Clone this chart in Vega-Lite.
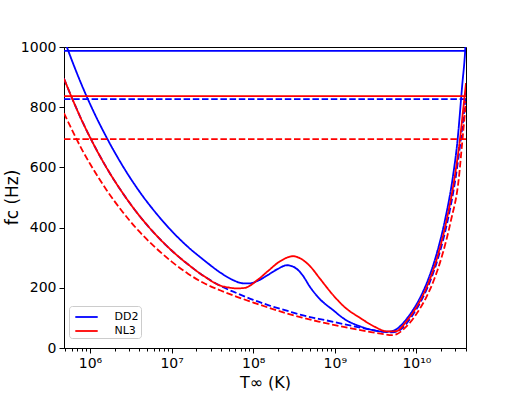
{
  "$schema": "https://vega.github.io/schema/vega-lite/v6.json",
  "width": 402,
  "height": 301,
  "autosize": "none",
  "padding": {"left": 64, "top": 47, "right": 52, "bottom": 50},
  "config": {
    "font": "DejaVu Sans",
    "view": {"stroke": "black", "strokeWidth": 1},
    "axis": {"grid": false, "domainColor": "black", "tickColor": "black", "labelColor": "black", "titleColor": "black", "labelFont": "DejaVu Sans", "titleFont": "DejaVu Sans", "titleFontWeight": "normal", "labelFontSize": 14, "titleFontSize": 17}
  },
  "data": {"values": [
    {"T": 5.2e5, "f": 1000, "m": "DD2", "s": "solid", "id": "a"},
    {"T": 6.31e5, "f": 940, "m": "DD2", "s": "solid", "id": "a"},
    {"T": 7.94e5, "f": 873, "m": "DD2", "s": "solid", "id": "a"},
    {"T": 1e6, "f": 811, "m": "DD2", "s": "solid", "id": "a"},
    {"T": 1.585e6, "f": 701, "m": "DD2", "s": "solid", "id": "a"},
    {"T": 2.512e6, "f": 605, "m": "DD2", "s": "solid", "id": "a"},
    {"T": 3.981e6, "f": 522, "m": "DD2", "s": "solid", "id": "a"},
    {"T": 6.31e6, "f": 451, "m": "DD2", "s": "solid", "id": "a"},
    {"T": 1e7, "f": 389, "m": "DD2", "s": "solid", "id": "a"},
    {"T": 1.585e7, "f": 336, "m": "DD2", "s": "solid", "id": "a"},
    {"T": 2.512e7, "f": 291, "m": "DD2", "s": "solid", "id": "a"},
    {"T": 3.981e7, "f": 250, "m": "DD2", "s": "solid", "id": "a"},
    {"T": 5.623e7, "f": 226, "m": "DD2", "s": "solid", "id": "a"},
    {"T": 7.5e7, "f": 215, "m": "DD2", "s": "solid", "id": "a"},
    {"T": 9.14e7, "f": 215, "m": "DD2", "s": "solid", "id": "a"},
    {"T": 1.15e8, "f": 224, "m": "DD2", "s": "solid", "id": "a"},
    {"T": 1.52e8, "f": 243, "m": "DD2", "s": "solid", "id": "a"},
    {"T": 2.01e8, "f": 263, "m": "DD2", "s": "solid", "id": "a"},
    {"T": 2.59e8, "f": 275, "m": "DD2", "s": "solid", "id": "a"},
    {"T": 3.25e8, "f": 267, "m": "DD2", "s": "solid", "id": "a"},
    {"T": 4.07e8, "f": 240, "m": "DD2", "s": "solid", "id": "a"},
    {"T": 4.96e8, "f": 203, "m": "DD2", "s": "solid", "id": "a"},
    {"T": 6.59e8, "f": 162, "m": "DD2", "s": "solid", "id": "a"},
    {"T": 9.51e8, "f": 126, "m": "DD2", "s": "solid", "id": "a"},
    {"T": 1.33e9, "f": 95, "m": "DD2", "s": "solid", "id": "a"},
    {"T": 2.04e9, "f": 72, "m": "DD2", "s": "solid", "id": "a"},
    {"T": 3.11e9, "f": 58, "m": "DD2", "s": "solid", "id": "a"},
    {"T": 4.36e9, "f": 54, "m": "DD2", "s": "solid", "id": "a"},
    {"T": 5.01e9, "f": 56, "m": "DD2", "s": "solid", "id": "a"},
    {"T": 5.75e9, "f": 63, "m": "DD2", "s": "solid", "id": "a"},
    {"T": 7.08e9, "f": 87, "m": "DD2", "s": "solid", "id": "a"},
    {"T": 8.91e9, "f": 123, "m": "DD2", "s": "solid", "id": "a"},
    {"T": 1.122e10, "f": 170, "m": "DD2", "s": "solid", "id": "a"},
    {"T": 1.413e10, "f": 232, "m": "DD2", "s": "solid", "id": "a"},
    {"T": 1.778e10, "f": 315, "m": "DD2", "s": "solid", "id": "a"},
    {"T": 2.239e10, "f": 425, "m": "DD2", "s": "solid", "id": "a"},
    {"T": 2.818e10, "f": 575, "m": "DD2", "s": "solid", "id": "a"},
    {"T": 3.162e10, "f": 680, "m": "DD2", "s": "solid", "id": "a"},
    {"T": 3.631e10, "f": 870, "m": "DD2", "s": "solid", "id": "a"},
    {"T": 3.98e10, "f": 1000, "m": "DD2", "s": "solid", "id": "a"},
    {"T": 4.05e10, "f": 1040, "m": "DD2", "s": "solid", "id": "a"},

    {"T": 4.8e5, "f": 895, "m": "DD2", "s": "dashed", "id": "b"},
    {"T": 6.31e5, "f": 817, "m": "DD2", "s": "dashed", "id": "b"},
    {"T": 7.94e5, "f": 756, "m": "DD2", "s": "dashed", "id": "b"},
    {"T": 1e6, "f": 700, "m": "DD2", "s": "dashed", "id": "b"},
    {"T": 1.585e6, "f": 600, "m": "DD2", "s": "dashed", "id": "b"},
    {"T": 2.512e6, "f": 515, "m": "DD2", "s": "dashed", "id": "b"},
    {"T": 3.981e6, "f": 441, "m": "DD2", "s": "dashed", "id": "b"},
    {"T": 6.31e6, "f": 378, "m": "DD2", "s": "dashed", "id": "b"},
    {"T": 1e7, "f": 324, "m": "DD2", "s": "dashed", "id": "b"},
    {"T": 1.585e7, "f": 278, "m": "DD2", "s": "dashed", "id": "b"},
    {"T": 2.512e7, "f": 238, "m": "DD2", "s": "dashed", "id": "b"},
    {"T": 3.981e7, "f": 206, "m": "DD2", "s": "dashed", "id": "b"},
    {"T": 6.31e7, "f": 182, "m": "DD2", "s": "dashed", "id": "b"},
    {"T": 1e8, "f": 160, "m": "DD2", "s": "dashed", "id": "b"},
    {"T": 1.585e8, "f": 141, "m": "DD2", "s": "dashed", "id": "b"},
    {"T": 2.512e8, "f": 125, "m": "DD2", "s": "dashed", "id": "b"},
    {"T": 3.981e8, "f": 109, "m": "DD2", "s": "dashed", "id": "b"},
    {"T": 6.31e8, "f": 97, "m": "DD2", "s": "dashed", "id": "b"},
    {"T": 1e9, "f": 86, "m": "DD2", "s": "dashed", "id": "b"},
    {"T": 1.585e9, "f": 74, "m": "DD2", "s": "dashed", "id": "b"},
    {"T": 2.512e9, "f": 63, "m": "DD2", "s": "dashed", "id": "b"},
    {"T": 3.981e9, "f": 54, "m": "DD2", "s": "dashed", "id": "b"},
    {"T": 5.01e9, "f": 52, "m": "DD2", "s": "dashed", "id": "b"},
    {"T": 6.31e9, "f": 60, "m": "DD2", "s": "dashed", "id": "b"},
    {"T": 7.59e9, "f": 82, "m": "DD2", "s": "dashed", "id": "b"},
    {"T": 9.55e9, "f": 120, "m": "DD2", "s": "dashed", "id": "b"},
    {"T": 1.202e10, "f": 168, "m": "DD2", "s": "dashed", "id": "b"},
    {"T": 1.514e10, "f": 230, "m": "DD2", "s": "dashed", "id": "b"},
    {"T": 1.905e10, "f": 312, "m": "DD2", "s": "dashed", "id": "b"},
    {"T": 2.399e10, "f": 420, "m": "DD2", "s": "dashed", "id": "b"},
    {"T": 3.02e10, "f": 565, "m": "DD2", "s": "dashed", "id": "b"},
    {"T": 3.508e10, "f": 695, "m": "DD2", "s": "dashed", "id": "b"},
    {"T": 3.89e10, "f": 800, "m": "DD2", "s": "dashed", "id": "b"},
    {"T": 4.05e10, "f": 850, "m": "DD2", "s": "dashed", "id": "b"},

    {"T": 4.8e5, "f": 987, "m": "DD2", "s": "solid", "id": "c"},
    {"T": 4.05e10, "f": 987, "m": "DD2", "s": "solid", "id": "c"},
    {"T": 4.8e5, "f": 827, "m": "DD2", "s": "dashed", "id": "d"},
    {"T": 4.05e10, "f": 827, "m": "DD2", "s": "dashed", "id": "d"},

    {"T": 4.8e5, "f": 895, "m": "NL3", "s": "solid", "id": "e"},
    {"T": 6.31e5, "f": 817, "m": "NL3", "s": "solid", "id": "e"},
    {"T": 7.94e5, "f": 756, "m": "NL3", "s": "solid", "id": "e"},
    {"T": 1e6, "f": 700, "m": "NL3", "s": "solid", "id": "e"},
    {"T": 1.585e6, "f": 600, "m": "NL3", "s": "solid", "id": "e"},
    {"T": 2.512e6, "f": 515, "m": "NL3", "s": "solid", "id": "e"},
    {"T": 3.981e6, "f": 441, "m": "NL3", "s": "solid", "id": "e"},
    {"T": 6.31e6, "f": 378, "m": "NL3", "s": "solid", "id": "e"},
    {"T": 1e7, "f": 324, "m": "NL3", "s": "solid", "id": "e"},
    {"T": 1.585e7, "f": 278, "m": "NL3", "s": "solid", "id": "e"},
    {"T": 2.512e7, "f": 238, "m": "NL3", "s": "solid", "id": "e"},
    {"T": 3.981e7, "f": 207, "m": "NL3", "s": "solid", "id": "e"},
    {"T": 5.012e7, "f": 201, "m": "NL3", "s": "solid", "id": "e"},
    {"T": 6.31e7, "f": 198, "m": "NL3", "s": "solid", "id": "e"},
    {"T": 7.943e7, "f": 200, "m": "NL3", "s": "solid", "id": "e"},
    {"T": 1.15e8, "f": 228, "m": "NL3", "s": "solid", "id": "e"},
    {"T": 1.52e8, "f": 256, "m": "NL3", "s": "solid", "id": "e"},
    {"T": 2.13e8, "f": 288, "m": "NL3", "s": "solid", "id": "e"},
    {"T": 3.08e8, "f": 305, "m": "NL3", "s": "solid", "id": "e"},
    {"T": 3.75e8, "f": 298, "m": "NL3", "s": "solid", "id": "e"},
    {"T": 4.96e8, "f": 272, "m": "NL3", "s": "solid", "id": "e"},
    {"T": 6.59e8, "f": 230, "m": "NL3", "s": "solid", "id": "e"},
    {"T": 9.51e8, "f": 176, "m": "NL3", "s": "solid", "id": "e"},
    {"T": 1.33e9, "f": 135, "m": "NL3", "s": "solid", "id": "e"},
    {"T": 2.04e9, "f": 100, "m": "NL3", "s": "solid", "id": "e"},
    {"T": 3.11e9, "f": 70, "m": "NL3", "s": "solid", "id": "e"},
    {"T": 4.36e9, "f": 55, "m": "NL3", "s": "solid", "id": "e"},
    {"T": 5.78e9, "f": 56, "m": "NL3", "s": "solid", "id": "e"},
    {"T": 6.31e9, "f": 64, "m": "NL3", "s": "solid", "id": "e"},
    {"T": 7.41e9, "f": 86, "m": "NL3", "s": "solid", "id": "e"},
    {"T": 9.33e9, "f": 123, "m": "NL3", "s": "solid", "id": "e"},
    {"T": 1.175e10, "f": 170, "m": "NL3", "s": "solid", "id": "e"},
    {"T": 1.479e10, "f": 232, "m": "NL3", "s": "solid", "id": "e"},
    {"T": 1.862e10, "f": 315, "m": "NL3", "s": "solid", "id": "e"},
    {"T": 2.344e10, "f": 425, "m": "NL3", "s": "solid", "id": "e"},
    {"T": 2.951e10, "f": 570, "m": "NL3", "s": "solid", "id": "e"},
    {"T": 3.42e10, "f": 695, "m": "NL3", "s": "solid", "id": "e"},
    {"T": 3.8e10, "f": 810, "m": "NL3", "s": "solid", "id": "e"},
    {"T": 4.05e10, "f": 880, "m": "NL3", "s": "solid", "id": "e"},

    {"T": 4.8e5, "f": 780, "m": "NL3", "s": "dashed", "id": "f"},
    {"T": 6.31e5, "f": 713, "m": "NL3", "s": "dashed", "id": "f"},
    {"T": 7.94e5, "f": 660, "m": "NL3", "s": "dashed", "id": "f"},
    {"T": 1e6, "f": 612, "m": "NL3", "s": "dashed", "id": "f"},
    {"T": 1.585e6, "f": 526, "m": "NL3", "s": "dashed", "id": "f"},
    {"T": 2.512e6, "f": 452, "m": "NL3", "s": "dashed", "id": "f"},
    {"T": 3.981e6, "f": 388, "m": "NL3", "s": "dashed", "id": "f"},
    {"T": 6.31e6, "f": 334, "m": "NL3", "s": "dashed", "id": "f"},
    {"T": 1e7, "f": 287, "m": "NL3", "s": "dashed", "id": "f"},
    {"T": 1.585e7, "f": 247, "m": "NL3", "s": "dashed", "id": "f"},
    {"T": 2.512e7, "f": 215, "m": "NL3", "s": "dashed", "id": "f"},
    {"T": 3.981e7, "f": 191, "m": "NL3", "s": "dashed", "id": "f"},
    {"T": 6.31e7, "f": 170, "m": "NL3", "s": "dashed", "id": "f"},
    {"T": 1e8, "f": 151, "m": "NL3", "s": "dashed", "id": "f"},
    {"T": 1.585e8, "f": 133, "m": "NL3", "s": "dashed", "id": "f"},
    {"T": 2.512e8, "f": 116, "m": "NL3", "s": "dashed", "id": "f"},
    {"T": 3.981e8, "f": 101, "m": "NL3", "s": "dashed", "id": "f"},
    {"T": 6.31e8, "f": 88, "m": "NL3", "s": "dashed", "id": "f"},
    {"T": 1e9, "f": 76, "m": "NL3", "s": "dashed", "id": "f"},
    {"T": 1.585e9, "f": 65, "m": "NL3", "s": "dashed", "id": "f"},
    {"T": 2.512e9, "f": 55, "m": "NL3", "s": "dashed", "id": "f"},
    {"T": 3.981e9, "f": 46, "m": "NL3", "s": "dashed", "id": "f"},
    {"T": 5.01e9, "f": 43, "m": "NL3", "s": "dashed", "id": "f"},
    {"T": 5.75e9, "f": 46, "m": "NL3", "s": "dashed", "id": "f"},
    {"T": 6.92e9, "f": 62, "m": "NL3", "s": "dashed", "id": "f"},
    {"T": 8.32e9, "f": 84, "m": "NL3", "s": "dashed", "id": "f"},
    {"T": 1.047e10, "f": 121, "m": "NL3", "s": "dashed", "id": "f"},
    {"T": 1.318e10, "f": 168, "m": "NL3", "s": "dashed", "id": "f"},
    {"T": 1.66e10, "f": 230, "m": "NL3", "s": "dashed", "id": "f"},
    {"T": 2.089e10, "f": 312, "m": "NL3", "s": "dashed", "id": "f"},
    {"T": 2.63e10, "f": 420, "m": "NL3", "s": "dashed", "id": "f"},
    {"T": 3.311e10, "f": 565, "m": "NL3", "s": "dashed", "id": "f"},
    {"T": 3.63e10, "f": 680, "m": "NL3", "s": "dashed", "id": "f"},
    {"T": 4.05e10, "f": 820, "m": "NL3", "s": "dashed", "id": "f"},

    {"T": 4.8e5, "f": 837, "m": "NL3", "s": "solid", "id": "g"},
    {"T": 4.05e10, "f": 837, "m": "NL3", "s": "solid", "id": "g"},
    {"T": 4.8e5, "f": 694, "m": "NL3", "s": "dashed", "id": "h"},
    {"T": 4.05e10, "f": 694, "m": "NL3", "s": "dashed", "id": "h"}
  ]},
  "mark": {"type": "line", "clip": true, "strokeWidth": 1.8, "interpolate": "monotone"},
  "encoding": {
    "x": {
      "field": "T", "type": "quantitative",
      "scale": {"type": "log", "domain": [4.8e5, 4.05e10], "nice": false},
      "axis": {
        "title": "T∞ (K)",
        "titleFontSize": 16,
        "values": [5e5, 6e5, 7e5, 8e5, 9e5, 1e6, 2e6, 3e6, 4e6, 5e6, 6e6, 7e6, 8e6, 9e6, 1e7, 2e7, 3e7, 4e7, 5e7, 6e7, 7e7, 8e7, 9e7, 1e8, 2e8, 3e8, 4e8, 5e8, 6e8, 7e8, 8e8, 9e8, 1e9, 2e9, 3e9, 4e9, 5e9, 6e9, 7e9, 8e9, 9e9, 1e10, 2e10, 3e10, 4e10],
        "labelExpr": "datum.value==1e6?'10⁶':datum.value==1e7?'10⁷':datum.value==1e8?'10⁸':datum.value==1e9?'10⁹':datum.value==1e10?'10¹⁰':''",
        "labelOverlap": false,
        "labelFlush": false,
        "labelPadding": 3,
        "tickSize": {"condition": {"test": "datum.value==1e6||datum.value==1e7||datum.value==1e8||datum.value==1e9||datum.value==1e10", "value": 5}, "value": 3},
        "titleY": 34,
        "titleBaseline": "middle"
      }
    },
    "y": {
      "field": "f", "type": "quantitative",
      "scale": {"domain": [0, 1000], "nice": false},
      "axis": {
        "title": "fc (Hz)",
        "format": "d",
        "values": [0, 200, 400, 600, 800, 1000],
        "tickSize": 5,
        "labelPadding": 3,
        "titleX": -52,
        "titleY": 150,
        "titleBaseline": "middle",
        "titleAngle": -90
      }
    },
    "color": {
      "field": "m", "type": "nominal",
      "scale": {"domain": ["DD2", "NL3"], "range": ["#0000ff", "#ff0000"]},
      "legend": {
        "title": null,
        "orient": "none",
        "legendX": 5,
        "legendY": 259,
        "padding": 2,
        "rowPadding": 0,
        "strokeColor": "#cccccc",
        "fillColor": "rgba(255,255,255,0.8)",
        "cornerRadius": 3,
        "symbolType": "M-1.4,0H1.4",
        "symbolSize": 256,
        "symbolStrokeWidth": 1.8,
        "symbolOffset": 6.5,
        "labelOffset": 19,
        "labelFontSize": 11,
        "labelFont": "DejaVu Sans",
        "labelColor": "black"
      }
    },
    "strokeDash": {
      "field": "s", "type": "nominal",
      "scale": {"domain": ["solid", "dashed"], "range": [[1, 0], [6.5, 2.7]]},
      "legend": null
    },
    "detail": {"field": "id"}
  }
}
